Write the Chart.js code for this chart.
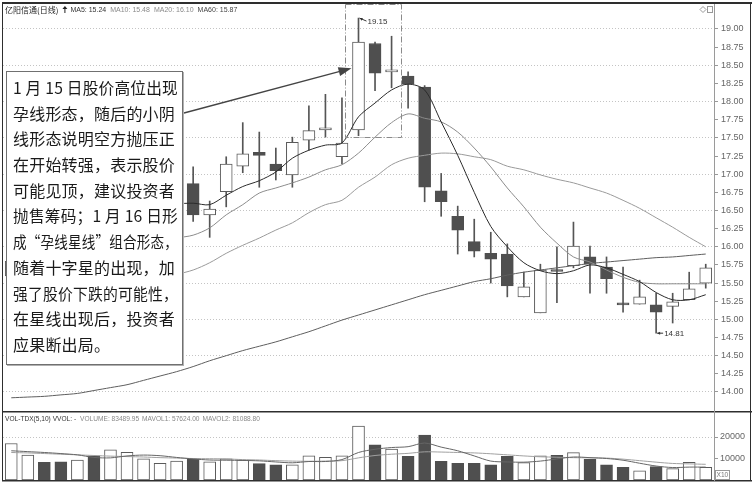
<!DOCTYPE html>
<html>
<head>
<meta charset="utf-8">
<script src="https://cdn.jsdelivr.net/npm/chart.js@4.4.1/dist/chart.umd.min.js"></script>
<style>
html, body { margin: 0; padding: 0; background: #fff; }
#wrap { position: relative; width: 752px; height: 487px; overflow: hidden; }
#price { position: absolute; left: 0; top: 0; }
#vol { position: absolute; left: 0; top: 411px; }
#note {
    position: absolute; left: 6px; top: 71px; width: 177px; height: 294px;
    box-sizing: border-box; border: 1px solid #707070; background: #fff;
    box-shadow: 1px 1px 0 #b0b0b0;
    padding: 3px 0 0 6px;
    font-family: "Noto Sans CJK SC", sans-serif; font-size: 16px; color: #1a1a1a;
}
#note .ln { height: 25.7px; line-height: 25.7px; white-space: nowrap; }
#note .ln span { display: inline-block; letter-spacing: 0.2px; transform-origin: left center; }
</style>
</head>
<body>
<div id="wrap">
    <canvas id="price" width="752" height="411"></canvas>
    <canvas id="vol" width="752" height="76"></canvas>
    <div id="note">
        <div class="ln"><span>1 月 15 日股价高位出现</span></div>
        <div class="ln"><span>孕线形态，随后的小阴</span></div>
        <div class="ln"><span>线形态说明空方抛压正</span></div>
        <div class="ln"><span>在开始转强，表示股价</span></div>
        <div class="ln"><span>可能见顶，建议投资者</span></div>
        <div class="ln"><span>抛售筹码；1 月 16 日形</span></div>
        <div class="ln"><span>成“孕线星线”组合形态，</span></div>
        <div class="ln"><span>随着十字星的出现，加</span></div>
        <div class="ln"><span>强了股价下跌的可能性，</span></div>
        <div class="ln"><span>在星线出现后，投资者</span></div>
        <div class="ln"><span>应果断出局。</span></div>
    </div>
</div>
<script>
// trading days (index only, the chart shows no dates)
const days = ["1","2","3","4","5","6","7","8","9","10","11","12","13","14","15","16","17","18","19","20","21",
    "22","23","24","25","26","27","28","29","30","31","32","33","34","35","36","37","38","39","40","41","42","43"]

const opens = [15.60,15.78,16.00,15.88,15.78,16.06,15.95,16.35,16.52,16.68,16.75,
    16.87,16.44,16.76,17.11,17.30,17.14,16.99,17.47,17.61,17.24,
    17.61,18.80,18.41,18.35,18.20,16.77,16.42,16.07,15.91,15.90,
    15.31,15.09,15.68,15.74,15.86,15.72,15.21,15.21,15.20,15.18,15.27,15.50]
const highs = [15.85,16.05,16.08,15.95,16.10,16.12,16.40,16.62,16.78,16.85,16.98,
    17.10,16.63,17.24,17.71,17.58,17.36,17.51,17.94,18.10,18.05,
    19.15,18.82,18.90,18.41,18.22,17.01,16.56,16.38,16.20,16.04,
    15.65,15.76,16.00,16.34,16.01,15.86,15.72,15.54,15.36,15.36,15.65,15.76]
const lows = [15.52,15.70,15.80,15.70,15.74,15.88,15.90,16.28,16.45,16.60,16.70,
    16.35,16.13,16.55,17.02,16.82,16.92,16.82,17.33,17.51,17.14,
    17.53,18.15,18.19,17.91,16.62,16.42,15.90,15.86,15.50,15.31,
    15.31,15.09,15.23,15.71,15.36,15.36,15.10,15.21,14.81,14.95,15.27,15.43]
const closes = [15.80,15.98,15.86,15.76,16.05,15.94,16.35,16.55,16.70,16.76,16.90,
    16.44,16.52,17.14,17.28,17.26,17.05,17.44,17.60,17.64,17.43,
    18.82,18.39,18.42,18.24,16.82,16.62,16.23,15.94,15.83,15.46,
    15.45,15.68,15.66,16.01,15.76,15.56,15.20,15.31,15.10,15.24,15.42,15.71]

const ma5 = [15.50,15.58,15.66,15.72,15.80,15.88,15.98,16.12,16.28,16.45,16.58,
    16.60,16.58,16.71,16.83,16.91,17.03,17.22,17.33,17.40,17.43,
    17.79,17.98,18.16,18.24,18.16,17.72,17.26,16.75,16.28,16.00,
    15.78,15.67,15.63,15.67,15.75,15.71,15.62,15.52,15.37,15.27,15.27,15.34]
const ma10 = [15.35,15.42,15.50,15.56,15.62,15.70,15.78,15.88,15.98,16.06,16.12,
    16.16,16.26,16.44,16.58,16.74,16.81,16.88,16.96,17.06,17.13,
    17.29,17.51,17.71,17.83,17.77,17.72,17.58,17.36,17.10,16.81,
    16.55,16.27,16.05,15.86,15.79,15.68,15.58,15.51,15.49,15.49,15.49,15.49]
const ma20 = [14.90,14.98,15.06,15.14,15.22,15.30,15.38,15.46,15.52,15.57,15.62,
    15.68,15.78,15.91,16.02,16.12,16.23,16.33,16.47,16.58,16.64,
    16.82,16.96,17.13,17.22,17.26,17.29,17.28,17.24,17.20,17.11,
    17.06,16.99,16.93,16.88,16.81,16.74,16.64,16.53,16.40,16.27,16.13,16.00]
const ma60 = [13.92,13.93,13.94,13.96,13.98,14.02,14.06,14.10,14.16,14.22,14.28,
    14.35,14.43,14.50,14.57,14.63,14.69,14.76,14.83,14.91,14.99,
    15.06,15.13,15.20,15.27,15.34,15.40,15.46,15.52,15.56,15.61,
    15.65,15.68,15.71,15.74,15.77,15.79,15.81,15.83,15.85,15.86,15.88,15.90]

const volumes = [17000,11600,8200,8500,9300,11300,14000,12900,9800,7700,8800,
    9900,8500,9800,9300,7600,7000,7000,11300,10500,11200,
    25100,16400,14400,11000,20900,8700,7700,7700,7100,11000,
    8100,11300,11500,12700,9600,7000,5900,4300,6200,5300,8200,5900]
const volMa1 = [13600,13200,12800,12300,11700,10500,10300,11200,11600,11300,10500,
    9800,9300,9200,9100,8900,8400,8000,8600,8600,9500,
    12800,14300,15100,15500,17200,15300,13600,11200,8800,8400,
    8300,8800,9800,10700,10400,10000,9200,7800,6500,5800,6000,6000]
const volMa2 = [12800,12600,12300,12000,11700,11400,11100,10900,10700,10400,10200,
    10000,9900,9800,9500,9300,9000,8800,8700,8800,9000,
    10300,11400,12000,12400,13100,13000,12800,12600,12200,11700,
    11200,10800,10600,10400,10300,10200,9700,9000,8300,7700,7500,7300]

const priceTicks = [14.00,14.25,14.50,14.75,15.00,15.25,15.50,15.75,16.00,16.25,16.50,16.75,
    17.00,17.25,17.50,17.75,18.00,18.25,18.50,18.75,19.00]
const volTicks = [10000, 20000]

const DARK = "#4f4f4f"
const isDown = i => closes[i] < opens[i]

Chart.defaults.font.family = "'Liberation Sans', Arial, sans-serif"
Chart.defaults.animation = false

// fit the long lines of the note box
document.querySelectorAll("#note .ln span").forEach(s => {
    const w = s.getBoundingClientRect().width
    if (w > 165) s.style.transform = `scaleX(${165 / w})`
})

function arrowHead(ctx, fx, fy, tx, ty, len, half) {
    const a = Math.atan2(ty - fy, tx - fx)
    ctx.beginPath()
    ctx.moveTo(tx, ty)
    ctx.lineTo(tx - len * Math.cos(a) + half * Math.sin(a), ty - len * Math.sin(a) - half * Math.cos(a))
    ctx.lineTo(tx - len * Math.cos(a) - half * Math.sin(a), ty - len * Math.sin(a) + half * Math.cos(a))
    ctx.closePath()
    ctx.fill()
}

// keep the plot area exactly where the layout padding puts it
function fitRightAxis(s) {
    s.width = 38
    s.paddingTop = 0
    s.paddingBottom = 0
}

const priceDecor = {
    id: "priceDecor",
    afterDraw(chart) {
        const {ctx, scales: {x, y}} = chart
        ctx.save()

        // frame
        ctx.fillStyle = "#2e2e2e"
        ctx.fillRect(2, 2, 750, 2)
        ctx.fillRect(2, 2, 1, 409)
        ctx.fillRect(750, 2, 1, 409)
        ctx.fillStyle = "#9a9a9a"
        ctx.fillRect(714, 4, 1, 407)

        // header
        ctx.textBaseline = "middle"
        ctx.font = "8px 'Noto Sans CJK SC'"
        ctx.fillStyle = "#222"
        ctx.fillText("亿阳信通(日线)", 5, 10)
        let hx = 5 + ctx.measureText("亿阳信通(日线)").width + 4
        ctx.beginPath()
        ctx.moveTo(hx + 2.5, 6); ctx.lineTo(hx + 5, 9); ctx.lineTo(hx, 9); ctx.closePath(); ctx.fill()
        ctx.fillRect(hx + 2, 9, 1, 4)
        hx += 8
        ctx.font = "7px 'Liberation Sans'"
        const items = [["MA5: 15.24", "#333"], ["MA10: 15.48", "#8a8a8a"], ["MA20: 16.10", "#8a8a8a"], ["MA60: 15.87", "#444"]]
        items.forEach(([t, c]) => {
            ctx.fillStyle = c
            ctx.fillText(t, hx, 10.5)
            hx += ctx.measureText(t).width + 4
        })

        // small icons top right
        ctx.strokeStyle = "#999"
        ctx.lineWidth = 1
        ctx.beginPath()
        ctx.moveTo(703, 6.5); ctx.lineTo(706, 9.5); ctx.lineTo(703, 12.5); ctx.lineTo(700, 9.5); ctx.closePath(); ctx.stroke()
        ctx.strokeRect(707.5, 6.5, 5, 6)

        // dash-dot box round the top pattern
        const bl = x.getPixelForValue(21) - 14
        const br = x.getPixelForValue(23) + 9
        const bb = y.getPixelForValue(17.51)
        ctx.strokeStyle = "#8a8a8a"
        ctx.setLineDash([6, 2, 1, 2])
        ctx.strokeRect(Math.round(bl) + 0.5, 4.5, Math.round(br - bl), Math.round(bb) - 4)
        ctx.setLineDash([])

        // high / low markers
        ctx.strokeStyle = "#333"
        ctx.fillStyle = "#333"
        const hx22 = x.getPixelForValue(21), hy22 = y.getPixelForValue(highs[21])
        ctx.beginPath(); ctx.moveTo(hx22 + 8, hy22 + 3); ctx.lineTo(hx22 + 1, hy22); ctx.stroke()
        arrowHead(ctx, hx22 + 8, hy22 + 3, hx22 + 1, hy22, 3, 1.5)
        ctx.font = "8px 'Liberation Sans'"
        ctx.textBaseline = "middle"
        ctx.fillText("19.15", hx22 + 9, hy22 + 4)

        const lx40 = x.getPixelForValue(39), ly40 = y.getPixelForValue(lows[39])
        ctx.beginPath(); ctx.moveTo(lx40 + 7, ly40); ctx.lineTo(lx40 + 1, ly40); ctx.stroke()
        arrowHead(ctx, lx40 + 7, ly40, lx40 + 1, ly40, 3, 1.5)
        ctx.fillText("14.81", lx40 + 8, ly40 + 0.5)

        // arrow from the note to the big candle
        const tx = x.getPixelForValue(21) - 7, ty = y.getPixelForValue(18.46)
        const sx = 184, sy = 113
        const ang = Math.atan2(ty - sy, tx - sx)
        ctx.strokeStyle = "#444"
        ctx.fillStyle = "#444"
        ctx.lineWidth = 1.3
        ctx.beginPath()
        ctx.moveTo(sx, sy)
        ctx.lineTo(tx - 11 * Math.cos(ang), ty - 11 * Math.sin(ang))
        ctx.stroke()
        arrowHead(ctx, sx, sy, tx, ty, 13, 4.5)

        ctx.restore()
    }
}

const volDecor = {
    id: "volDecor",
    afterDraw(chart) {
        const {ctx} = chart
        ctx.save()
        ctx.fillStyle = "#2e2e2e"
        ctx.fillRect(2, 0, 750, 1.5)
        ctx.fillRect(2, 69, 750, 1.5)
        ctx.fillRect(2, 0, 1, 70)
        ctx.fillRect(750, 0, 1, 70)
        ctx.fillStyle = "#9a9a9a"
        ctx.fillRect(714, 0, 1, 70)

        ctx.textBaseline = "middle"
        ctx.font = "6.6px 'Liberation Sans'"
        let hx = 5
        const items = [["VOL-TDX(5,10) VVOL: -", "#333", 4], ["VOLUME: 83489.95", "#888", 3],
            ["MAVOL1: 57624.00", "#888", 3], ["MAVOL2: 81088.80", "#888", 3]]
        items.forEach(([t, c, g]) => {
            ctx.fillStyle = c
            ctx.fillText(t, hx, 8.5)
            hx += ctx.measureText(t).width + g
        })

        ctx.strokeStyle = "#999"
        ctx.lineWidth = 1
        ctx.strokeRect(715.5, 59.5, 14, 9)
        ctx.fillStyle = "#777"
        ctx.fillText("X10", 716.5, 64.5)
        ctx.restore()
    }
}

const xAxis = {
    type: "category",
    display: false,
    offset: true,
    grid: { display: false }
}

new Chart(document.getElementById("price"), {
    type: "bar",
    data: {
        labels: days,
        datasets: [
            {
                label: "MA5", type: "line", data: ma5, order: 1,
                borderColor: "#2b2b2b", borderWidth: 1, pointRadius: 0, tension: 0.3
            },
            {
                label: "MA10", type: "line", data: ma10, order: 1,
                borderColor: "#8c8c8c", borderWidth: 1, pointRadius: 0, tension: 0.3
            },
            {
                label: "MA20", type: "line", data: ma20, order: 1,
                borderColor: "#9a9a9a", borderWidth: 1, pointRadius: 0, tension: 0.3
            },
            {
                label: "MA60", type: "line", data: ma60, order: 1,
                borderColor: "#5e5e5e", borderWidth: 1, pointRadius: 0, tension: 0.3
            },
            {
                label: "body", data: opens.map((o, i) => [o, closes[i]]), order: 2,
                grouped: false, barThickness: 12, minBarLength: 2,
                backgroundColor: opens.map((o, i) => isDown(i) ? DARK : "#ffffff"),
                borderColor: opens.map((o, i) => isDown(i) ? DARK : "#5a5a5a"),
                borderWidth: 1, borderSkipped: false
            },
            {
                label: "wick", data: lows.map((l, i) => [l, highs[i]]), order: 3,
                grouped: false, barThickness: 1,
                backgroundColor: "#555", borderWidth: 0
            }
        ]
    },
    options: {
        responsive: false,
        devicePixelRatio: 1,
        layout: { padding: { left: 3, top: 4, right: 0, bottom: 0 } },
        plugins: { legend: { display: false }, tooltip: { enabled: false } },
        scales: {
            x: xAxis,
            y: {
                position: "right",
                min: 13.738,
                max: 19.344,
                afterBuildTicks: s => { s.ticks = priceTicks.map(v => ({ value: v })) },
                afterFit: fitRightAxis,
                grid: {
                    color: c => (c.tick && Math.abs(c.tick.value * 2 - Math.round(c.tick.value * 2)) < 1e-6) ? "#c4c4c4" : "rgba(0,0,0,0)",
                    tickColor: "#999",
                    tickLength: 4
                },
                border: { display: false, dash: [1, 2] },
                ticks: {
                    color: "#666",
                    padding: 3,
                    font: { size: 9 },
                    callback: v => Number(v).toFixed(2)
                }
            }
        }
    },
    plugins: [priceDecor]
})

new Chart(document.getElementById("vol"), {
    type: "bar",
    data: {
        labels: days,
        datasets: [
            {
                label: "MAVOL1", type: "line", data: volMa1, order: 1,
                borderColor: "#666", borderWidth: 1, pointRadius: 0, tension: 0.3
            },
            {
                label: "MAVOL2", type: "line", data: volMa2, order: 1,
                borderColor: "#a0a0a0", borderWidth: 1, pointRadius: 0, tension: 0.3
            },
            {
                label: "VOLUME", data: volumes, order: 2,
                barThickness: 12,
                backgroundColor: volumes.map((v, i) => isDown(i) ? DARK : "#ffffff"),
                borderColor: volumes.map((v, i) => isDown(i) ? DARK : "#5a5a5a"),
                borderWidth: 1, borderSkipped: false
            }
        ]
    },
    options: {
        responsive: false,
        devicePixelRatio: 1,
        layout: { padding: { left: 3, top: 0, right: 0, bottom: 7 } },
        plugins: { legend: { display: false }, tooltip: { enabled: false } },
        scales: {
            x: xAxis,
            y: {
                position: "right",
                min: 0,
                max: 32100,
                afterBuildTicks: s => { s.ticks = volTicks.map(v => ({ value: v })) },
                afterFit: fitRightAxis,
                grid: {
                    color: c => (c.tick && c.tick.value === 20000) ? "#c4c4c4" : "rgba(0,0,0,0)",
                    tickColor: "#999",
                    tickLength: 4
                },
                border: { display: false, dash: [1, 2] },
                ticks: {
                    color: "#666",
                    padding: 2,
                    font: { size: 9 },
                    callback: v => String(v)
                }
            }
        }
    },
    plugins: [volDecor]
})
</script>
</body>
</html>
